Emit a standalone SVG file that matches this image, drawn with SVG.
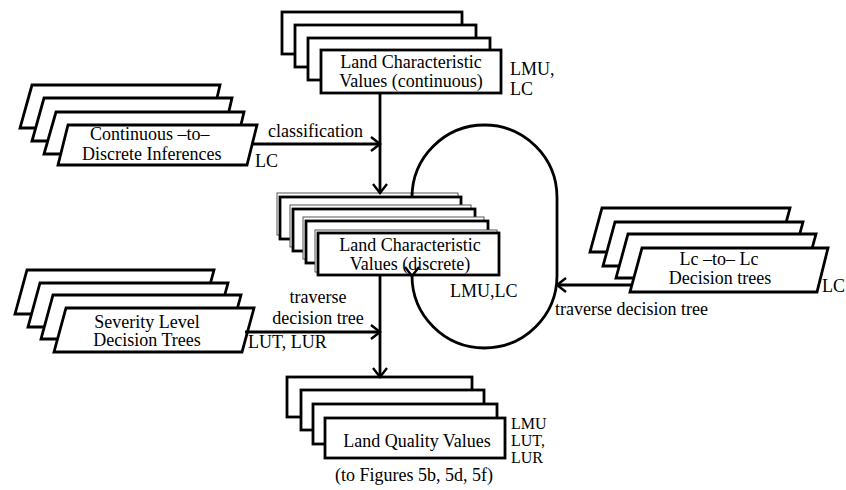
<svg xmlns="http://www.w3.org/2000/svg" width="846" height="490" viewBox="0 0 846 490">
<style>
.lay{fill:#fff;stroke:#000;stroke-width:2.8;stroke-linejoin:miter}
.thin{fill:#fff;stroke:#555;stroke-width:1}
.t{font-family:"Liberation Serif","Times New Roman",serif;font-size:18px;fill:#000}
.s{font-size:16px}
.m{text-anchor:middle}
.c{fill:none;stroke:#000;stroke-width:2.8}
</style>
<defs>
<marker id="ah" markerUnits="userSpaceOnUse" markerWidth="14" markerHeight="16" refX="10" refY="8" orient="auto">
<path d="M1,1 L10,8 L1,15" fill="none" stroke="#000" stroke-width="2.4"/>
</marker>
</defs>
<rect width="846" height="490" fill="#fff"/>

<g id="lcv-continuous">
<rect class="lay" x="282" y="12" width="180" height="42"/>
<rect class="lay" x="295" y="25" width="181" height="42"/>
<rect class="lay" x="308" y="38" width="182" height="42"/>
<rect class="lay" x="321" y="50" width="180" height="43"/>
<text class="t m" x="411" y="68">Land Characteristic</text>
<text class="t m" x="411" y="87">Values (continuous)</text>
<text class="t" x="510" y="75">LMU,</text>
<text class="t" x="510" y="95">LC</text>
</g>

<g id="ctd-inferences">
<polygon class="lay" points="32,85 220,85 210,128 20,128"/>
<polygon class="lay" points="44,98 232,98 222,141 32,141"/>
<polygon class="lay" points="56,112 244,112 234,154 44,154"/>
<polygon class="lay" points="68,125 257,125 247,165 58,165"/>
<text class="t" x="90" y="140">Continuous –to–</text>
<text class="t" x="82" y="160">Discrete Inferences</text>
<text class="t" x="255" y="167">LC</text>
</g>

<g id="lcv-discrete">
<rect class="thin" x="277" y="193" width="181" height="42"/>
<rect class="lay" x="280" y="197" width="181" height="42"/>
<rect class="thin" x="290" y="205" width="181" height="42"/>
<rect class="lay" x="293" y="209" width="182" height="42"/>
<rect class="thin" x="303" y="217" width="181" height="42"/>
<rect class="lay" x="306" y="221" width="182" height="42"/>
<rect class="thin" x="315" y="230" width="182" height="42"/>
<rect class="lay" x="318" y="233" width="181" height="42"/>
<text class="t m" x="410" y="251" font-size="17">Land Characteristic</text>
<text class="t m" x="410" y="270" font-size="17">Values (discrete)</text>
<text class="t" x="450" y="297">LMU,LC</text>
</g>

<g id="lc-to-lc">
<polygon class="lay" points="602,208 790,208 778,252 590,252"/>
<polygon class="lay" points="615,222 803,222 791,266 603,266"/>
<polygon class="lay" points="628,234 816,234 804,278 616,278"/>
<polygon class="lay" points="642,248 828,248 817,292 630,292"/>
<text class="t m" x="719" y="265">Lc –to– Lc</text>
<text class="t m" x="720" y="284">Decision trees</text>
<text class="t" x="822" y="292">LC</text>
</g>

<g id="severity">
<polygon class="lay" points="27,270 214,270 202,314 15,314"/>
<polygon class="lay" points="40,283 228,283 216,327 28,327"/>
<polygon class="lay" points="53,295 241,295 229,339 41,339"/>
<polygon class="lay" points="66,308 254,308 242,352 54,352"/>
<text class="t m" x="147" y="328">Severity Level</text>
<text class="t m" x="147" y="346">Decision Trees</text>
<text class="t" x="248" y="348">LUT, LUR</text>
</g>

<g id="land-quality">
<rect class="lay" x="287" y="377" width="185" height="40"/>
<rect class="lay" x="301" y="390" width="183" height="40"/>
<rect class="lay" x="313" y="404" width="184" height="40"/>
<rect class="lay" x="325" y="418" width="180" height="40"/>
<text class="t m" x="417" y="447">Land Quality Values</text>
<text class="t s" x="511" y="429">LMU</text>
<text class="t s" x="511" y="446">LUT,</text>
<text class="t s" x="511" y="463">LUR</text>
<text class="t m" x="414" y="481">(to Figures 5b, 5d, 5f)</text>
</g>

<g id="connectors">
<line class="c" x1="380" y1="93" x2="380" y2="193" marker-end="url(#ah)"/>
<line class="c" x1="251" y1="144" x2="380" y2="144" marker-end="url(#ah)"/>
<text class="t" x="268" y="137">classification</text>
<line class="c" x1="380" y1="275" x2="380" y2="377" marker-end="url(#ah)"/>
<line class="c" x1="245" y1="332" x2="380" y2="332" marker-end="url(#ah)"/>
<text class="t m" x="318" y="303">traverse</text>
<text class="t m" x="318" y="324">decision tree</text>
<path class="c" d="M412,193 L412,197.5 A72.5,72.5 0 0 1 557,197.5 L557,275.5 A72.5,72.5 0 0 1 412,275.5 L412,276" marker-end="url(#ah)"/>
<line class="c" x1="632" y1="285" x2="557" y2="285" marker-end="url(#ah)"/>
<text class="t" x="555" y="315">traverse decision tree</text>
</g>
</svg>
